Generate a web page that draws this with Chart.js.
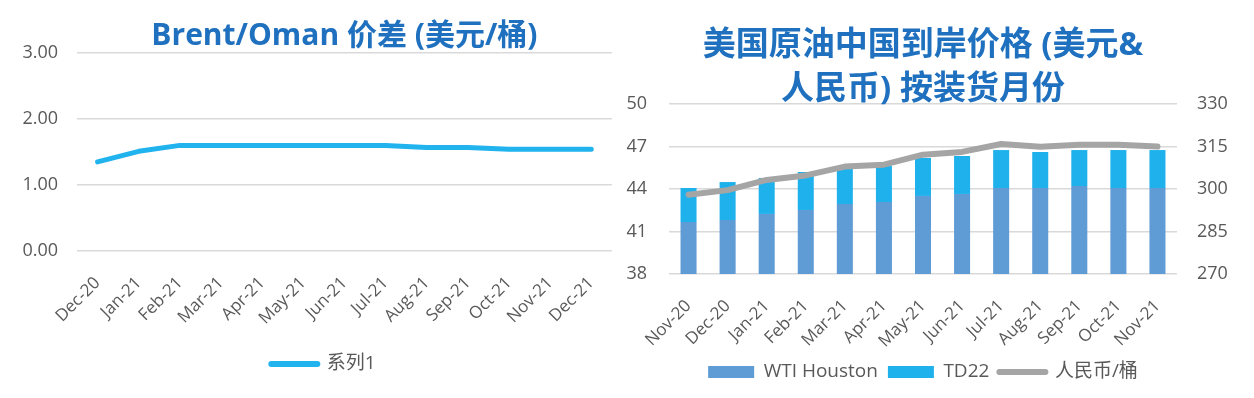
<!DOCTYPE html>
<html>
<head>
<meta charset="utf-8">
<script src="https://cdn.jsdelivr.net/npm/chart.js@4.4.1/dist/chart.umd.min.js"></script>
<style>
  body { margin: 0; background: #fff; }
  #wrap { position: relative; width: 1254px; height: 398px; }
  canvas { position: absolute; top: 0; }
  #left { left: 0; }
  #right { left: 620px; }
</style>
</head>
<body>
<div id="wrap">
  <canvas id="left" width="620" height="398"></canvas>
  <canvas id="right" width="634" height="398"></canvas>
</div>
<script>
// ---- data ----
const spreadMonths = ['Dec-20', 'Jan-21', 'Feb-21', 'Mar-21', 'Apr-21', 'May-21', 'Jun-21',
                      'Jul-21', 'Aug-21', 'Sep-21', 'Oct-21', 'Nov-21', 'Dec-21'];
const spreadValues = [1.35, 1.51, 1.60, 1.60, 1.60, 1.60, 1.60, 1.60, 1.57, 1.57, 1.54, 1.54, 1.54];

const cargoMonths = ['Nov-20', 'Dec-20', 'Jan-21', 'Feb-21', 'Mar-21', 'Apr-21', 'May-21',
                     'Jun-21', 'Jul-21', 'Aug-21', 'Sep-21', 'Oct-21', 'Nov-21'];
const wtiHouston = [41.67, 41.81, 42.24, 42.52, 42.94, 43.08, 43.51, 43.65, 44.07, 44.07, 44.21, 44.07, 44.07];
const td22 = [2.40, 2.68, 2.54, 2.68, 2.59, 2.54, 2.68, 2.68, 2.68, 2.54, 2.54, 2.68, 2.68];
const rmbPerBarrel = [298.0, 299.6, 303.2, 304.8, 307.9, 308.6, 312.1, 313.1, 315.9, 314.9, 315.6, 315.6, 315.0];

// ---- shared look ----
const FONT = '"Open Sans", "Noto Sans CJK SC", sans-serif';
const TICK = '#595959';
const GRID = '#D9D9D9';
const TITLE = '#1F70BE';

Chart.defaults.font.family = FONT;
Chart.defaults.color = TICK;
Chart.defaults.animation = false;

function legendItems(chart) {
    return Chart.defaults.plugins.legend.labels.generateLabels(chart).map(item => {
        const ds = chart.data.datasets[item.datasetIndex];
        const isLine = (ds.type || chart.config.type) === 'line';
        if (isLine) {
            item.pointStyle = 'line';
            item.lineWidth = 6;
            item.lineCap = 'round';
            item.strokeStyle = ds.borderColor;
        } else {
            item.pointStyle = 'rect';
            item.lineWidth = 0;
        }
        return item;
    });
}

function fixSize(w, h) {
    return scale => {
        if (w !== null) scale.width = w;
        if (h !== null) scale.height = h;
    };
}

// nudge the legend sideways without moving the plot
const shiftLegend = dx => ({
    id: 'shiftLegend',
    afterLayout(chart) {
        chart.legend.left += dx;
        chart.legend.right += dx;
    }
});

// =========================
// LEFT: Brent/Oman spread
// =========================
new Chart(document.getElementById('left'), {
    type: 'line',
    data: {
        labels: spreadMonths,
        datasets: [{
            label: '系列1',
            data: spreadValues,
            borderColor: '#21B3EE',
            backgroundColor: '#21B3EE',
            borderWidth: 5,
            borderCapStyle: 'round',
            borderJoinStyle: 'round',
            pointRadius: 0,
            tension: 0
        }]
    },
    plugins: [shiftLegend(16)],
    options: {
        responsive: false,
        devicePixelRatio: 1,
        layout: { padding: { left: 0, right: 5, top: 0, bottom: 14.5 } },
        plugins: {
            title: {
                display: true,
                text: 'Brent/Oman 价差 (美元/桶)',
                color: TITLE,
                fullSize: false,
                font: { size: 30, weight: 'bold', lineHeight: '34px' },
                padding: { top: 19, bottom: 0 }
            },
            legend: {
                position: 'bottom',
                labels: {
                    usePointStyle: true,
                    pointStyleWidth: 46,
                    boxHeight: 12,
                    padding: 10,
                    color: TICK,
                    font: { size: 19 },
                    generateLabels: legendItems
                }
            },
            tooltip: { enabled: false }
        },
        scales: {
            x: {
                offset: true,
                grid: { display: false },
                border: { display: false },
                ticks: { font: { size: 17 }, minRotation: 45, maxRotation: 45, autoSkip: false, padding: 14 },
                afterFit: fixSize(null, 93.5)
            },
            y: {
                min: 0,
                max: 3,
                grid: { color: GRID, lineWidth: 1.5, drawTicks: false },
                border: { display: false },
                ticks: { stepSize: 1, font: { size: 18 }, padding: 19, callback: v => v.toFixed(2) },
                afterFit: fixSize(77, null)
            }
        }
    }
});

// =========================
// RIGHT: US crude landed in China
// =========================
new Chart(document.getElementById('right'), {
    type: 'bar',
    data: {
        labels: cargoMonths,
        datasets: [{
            label: 'WTI Houston',
            data: wtiHouston,
            backgroundColor: '#5F9BD4',
            yAxisID: 'y',
            barPercentage: 0.41,
            categoryPercentage: 1
        }, {
            label: 'TD22',
            data: td22,
            backgroundColor: '#1FB1EC',
            yAxisID: 'y',
            barPercentage: 0.41,
            categoryPercentage: 1
        }, {
            type: 'line',
            label: '人民币/桶',
            data: rmbPerBarrel,
            borderColor: '#A5A5A5',
            backgroundColor: '#A5A5A5',
            borderWidth: 6,
            borderCapStyle: 'round',
            borderJoinStyle: 'round',
            pointRadius: 0,
            tension: 0,
            yAxisID: 'y1',
            order: -1
        }]
    },
    options: {
        responsive: false,
        devicePixelRatio: 1,
        layout: { padding: { left: 0, right: 0, top: 0, bottom: 6.5 } },
        plugins: {
            title: {
                display: true,
                text: ['美国原油中国到岸价格 (美元&', '人民币) 按装货月份'],
                color: TITLE,
                fullSize: false,
                font: { size: 33, weight: 'bold', lineHeight: '44px' },
                padding: { top: 24, bottom: -8 }
            },
            legend: {
                position: 'bottom',
                fullSize: false,
                labels: {
                    usePointStyle: true,
                    pointStyleWidth: 46,
                    boxHeight: 12,
                    padding: 10,
                    color: TICK,
                    font: { size: 19 },
                    sort: (a, b) => a.datasetIndex - b.datasetIndex,
                    generateLabels: legendItems
                }
            },
            tooltip: { enabled: false }
        },
        scales: {
            x: {
                stacked: true,
                grid: { display: false },
                border: { display: false },
                ticks: { font: { size: 17 }, minRotation: 45, maxRotation: 45, autoSkip: false, padding: 14 },
                afterFit: fixSize(null, 78.5)
            },
            y: {
                stacked: true,
                position: 'left',
                min: 38,
                max: 50,
                grid: { color: GRID, lineWidth: 1.5, drawTicks: false },
                border: { display: false },
                ticks: { stepSize: 3, font: { size: 18 }, padding: 22 },
                afterFit: fixSize(49, null)
            },
            y1: {
                position: 'right',
                min: 270,
                max: 330,
                grid: { display: false, drawTicks: false },
                border: { display: false },
                ticks: { stepSize: 15, font: { size: 18 }, padding: 20 },
                afterFit: fixSize(77, null)
            }
        }
    }
});
</script>
</body>
</html>
